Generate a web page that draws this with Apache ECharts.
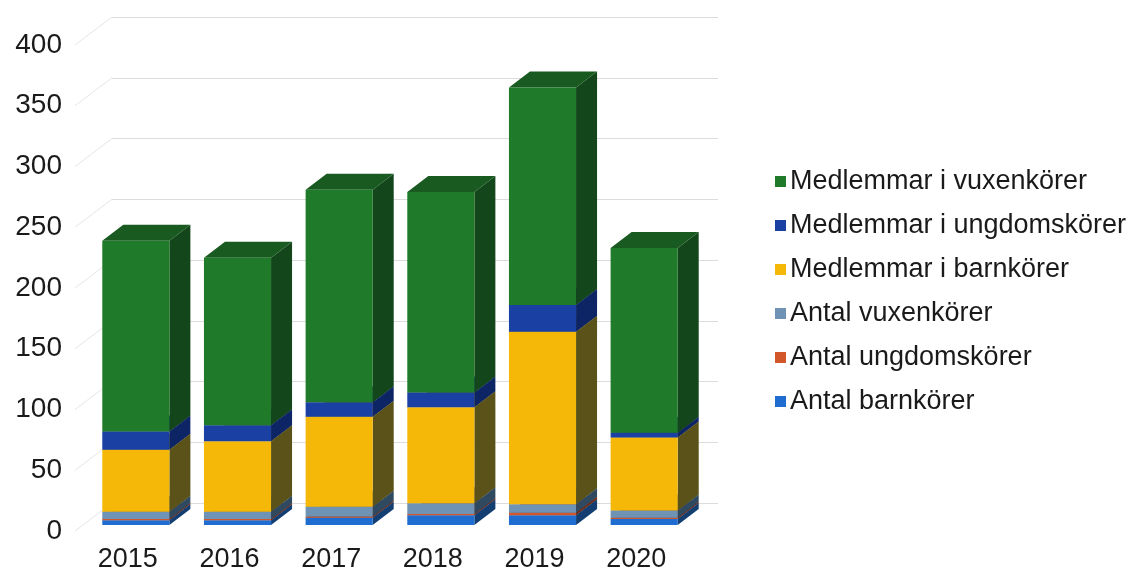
<!DOCTYPE html>
<html>
<head>
<meta charset="utf-8">
<script src="https://cdn.jsdelivr.net/npm/echarts@6/dist/echarts.min.js"></script>
<style>
  html, body { margin: 0; padding: 0; background: #ffffff; }
  #chart { width: 1130px; height: 573px; }
</style>
</head>
<body>
<div id="chart"></div>
<script>
// Kategorier och värden (stapelordning nerifrån och upp)
const years = ['2015', '2016', '2017', '2018', '2019', '2020'];
const yTicks = [0, 50, 100, 150, 200, 250, 300, 350, 400];

const antalBarnkorer        = [4, 4, 6, 8, 8, 5];
const antalUngdomskorer     = [1, 1, 1, 1, 2, 1];
const antalVuxenkorer       = [6, 6, 8, 9, 7, 6];
const medlemmarBarnkorer    = [51, 58, 74, 79, 142, 60];
const medlemmarUngdomskorer = [15, 13, 12, 12, 22, 4];
const medlemmarVuxenkorer   = [157, 138, 175, 165, 179, 152];

const seriesNames = [
  'Antal barnkörer',
  'Antal ungdomskörer',
  'Antal vuxenkörer',
  'Medlemmar i barnkörer',
  'Medlemmar i ungdomskörer',
  'Medlemmar i vuxenkörer'
];
const seriesValues = [
  antalBarnkorer, antalUngdomskorer, antalVuxenkorer,
  medlemmarBarnkorer, medlemmarUngdomskorer, medlemmarVuxenkorer
];

// Färger: framsida, sida, ovansida
const palette = [
  { front: '#1f6dd0', side: '#123e72', top: '#17519b' },
  { front: '#d2572a', side: '#6e2c14', top: '#9a3e1c' },
  { front: '#6f93b4', side: '#2f4a60', top: '#4c6a86' },
  { front: '#f6b808', side: '#5a5218', top: '#a0820e' },
  { front: '#1b40a4', side: '#0e2565', top: '#153181' },
  { front: '#1f7a2a', side: '#13461a', top: '#195a20' }
];

// 3D-geometri i pixlar
const FRONT_DX = 8, FRONT_DY = -6;   // framsidans förskjutning in i diagrammet
const DEPTH_DX = 21, DEPTH_DY = -16; // stapelns djup
const WALL_DX = 35, WALL_DY = -28;   // bakväggens förskjutning
const BAR_RATIO = 0.66;

function makeRenderer(layerIndex) {
  const col = palette[layerIndex];
  return function (params, api) {
    const cat = api.value(0);
    const lo = api.value(1);
    const hi = api.value(2);
    const pLo = api.coord([cat, lo]);
    const pHi = api.coord([cat, hi]);
    const w = api.size([1, 0])[0] * BAR_RATIO;
    const cx = pLo[0] + FRONT_DX;
    const xl = cx - w / 2, xr = cx + w / 2;
    const yb = pLo[1] + FRONT_DY, yt = pHi[1] + FRONT_DY;
    const z2 = layerIndex * 3;
    return {
      type: 'group',
      children: [
        {
          type: 'polygon', z2: z2,
          shape: { points: [[xr, yt], [xr + DEPTH_DX, yt + DEPTH_DY], [xr + DEPTH_DX, yb + DEPTH_DY], [xr, yb]] },
          style: { fill: col.side }
        },
        {
          type: 'polygon', z2: z2 + 1,
          shape: { points: [[xl, yt], [xl + DEPTH_DX, yt + DEPTH_DY], [xr + DEPTH_DX, yt + DEPTH_DY], [xr, yt]] },
          style: { fill: col.top }
        },
        {
          type: 'rect', z2: z2 + 2,
          shape: { x: xl, y: yt, width: w, height: yb - yt },
          style: { fill: col.front }
        }
      ]
    };
  };
}

// Staplade segment: [kategori, nedre, övre]
const blockSeries = seriesNames.map(function (name, li) {
  const data = years.map(function (y, ci) {
    let base = 0;
    for (let k = 0; k < li; k++) base += seriesValues[k][ci];
    return [ci, base, base + seriesValues[li][ci]];
  });
  return {
    name: name,
    type: 'custom',
    xAxisIndex: 0,
    yAxisIndex: 0,
    renderItem: makeRenderer(li),
    itemStyle: { color: palette[li].front },
    encode: { x: 0, y: [1, 2] },
    data: data,
    silent: true
  };
});

// Vänsterväggens diagonala stödlinjer
const wallSeries = {
  name: 'vägg',
  type: 'custom',
  xAxisIndex: 0,
  yAxisIndex: 0,
  silent: true,
  data: yTicks.map(function (t) { return [0, t]; }),
  renderItem: function (params, api) {
    const x0 = params.coordSys.x;
    const y0 = api.coord([0, api.value(1)])[1];
    return {
      type: 'line', z2: -1,
      shape: { x1: x0 - 2, y1: y0, x2: x0 + WALL_DX, y2: y0 + WALL_DY },
      style: { stroke: '#e6e6e6', lineWidth: 1 }
    };
  }
};

const chart = echarts.init(document.getElementById('chart'), null, { renderer: 'canvas' });

chart.setOption({
  backgroundColor: '#ffffff',
  animation: false,
  textStyle: { fontFamily: 'Liberation Sans, Arial, sans-serif' },
  grid: [
    { left: 77, right: 443, top: 45, bottom: 42 },
    { left: 112, right: 412, top: 17, bottom: 70 }
  ],
  xAxis: [
    {
      gridIndex: 0, type: 'category', data: years,
      axisLine: { show: false }, axisTick: { show: false },
      axisLabel: { fontSize: 27, color: '#1a1a1a', margin: 15 }
    },
    {
      gridIndex: 1, type: 'category', data: years, show: false
    }
  ],
  yAxis: [
    {
      gridIndex: 0, type: 'value', min: 0, max: 400, interval: 50,
      axisLine: { show: false }, axisTick: { show: false },
      splitLine: { show: false },
      axisLabel: { fontSize: 28, color: '#1a1a1a', margin: 15 }
    },
    {
      gridIndex: 1, type: 'value', min: 0, max: 400, interval: 50,
      axisLine: { show: false }, axisTick: { show: false },
      axisLabel: { show: false },
      splitLine: { show: true, lineStyle: { color: '#dcdcdc', width: 1 } }
    }
  ],
  legend: {
    orient: 'vertical',
    left: 770,
    top: 163,
    itemWidth: 11,
    itemHeight: 11,
    itemGap: 17,
    icon: 'rect',
    data: seriesNames.slice().reverse(),
    textStyle: { fontSize: 27, color: '#1a1a1a', padding: [0, 0, 0, -1] }
  },
  series: [wallSeries].concat(blockSeries)
});
</script>
</body>
</html>
